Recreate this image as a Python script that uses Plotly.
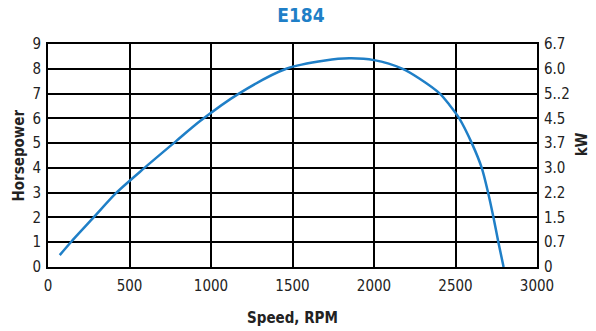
import plotly.graph_objects as go

# engine curve
speed_rpm = [72, 140, 280, 420, 592, 786, 935, 1171, 1462, 1700, 1848, 2000, 2176, 2278, 2404, 2462, 2523, 2600, 2661, 2700, 2733, 2763, 2795]
horsepower = [0.48, 1.0, 2.0, 3.0, 4.0, 5.08, 5.9, 7.0, 8.0, 8.33, 8.42, 8.35, 8.0, 7.61, 7.0, 6.55, 6.0, 5.0, 4.0, 3.0, 2.0, 1.0, 0.0]

hp_ticks = [0, 1, 2, 3, 4, 5, 6, 7, 8, 9]
kw_labels = ["0", "0.7", "1.5", "2.2", "3.0", "3.7", "4.5", "5..2", "6.0", "6.7"]
x_ticks = [0, 500, 1000, 1500, 2000, 2500, 3000]

FONT = "Liberation Sans Narrow, DejaVu Sans Condensed, Liberation Sans, Arial"
BLUE = "#1f7fc7"

fig = go.Figure()
fig.add_trace(go.Scatter(
    x=speed_rpm, y=horsepower, mode="lines",
    line=dict(color=BLUE, width=2.5, shape="spline", smoothing=0.8),
    showlegend=False,
))
# invisible trace so the kW axis shows up
fig.add_trace(go.Scatter(x=[None], y=[None], yaxis="y2", showlegend=False))

fig.update_layout(
    width=596, height=331,
    margin=dict(l=48, r=59, t=44, b=64),
    paper_bgcolor="white", plot_bgcolor="white",
    font=dict(family=FONT, size=15, color="#222"),
    title=dict(text="<b>E184</b>", x=0.505, xanchor="center", y=0.955, yanchor="middle",
               font=dict(family=FONT, size=19, color=BLUE)),
    xaxis=dict(
        range=[0, 3000], tickvals=x_ticks, showgrid=True, gridcolor="black", gridwidth=2,
        showline=True, linecolor="black", linewidth=2, mirror=True, zeroline=False,
        ticks="", ticklabelstandoff=4, automargin=False,
    ),
    yaxis=dict(
        range=[0, 9], tickvals=hp_ticks, showgrid=True, gridcolor="black", gridwidth=2,
        showline=True, linecolor="black", linewidth=2, mirror=True, zeroline=False,
        ticks="", ticklabelstandoff=2, automargin=False,
    ),
    yaxis2=dict(
        range=[0, 9], tickvals=hp_ticks, ticktext=kw_labels, overlaying="y", side="right",
        showgrid=False, zeroline=False, ticks="", ticklabelstandoff=6, automargin=False,
    ),
    annotations=[
        dict(text="<b>Speed, RPM</b>", xref="paper", yref="paper", x=0.5, y=-0.23,
             xanchor="center", yanchor="middle", showarrow=False, font=dict(size=15)),
        dict(text="<b>Horsepower</b>", xref="paper", yref="paper", x=0, xshift=-30, y=0.5,
             xanchor="center", yanchor="middle", textangle=-90, showarrow=False, font=dict(size=15)),
        dict(text="<b>kW</b>", xref="paper", yref="paper", x=1, xshift=45, y=0.55,
             xanchor="center", yanchor="middle", textangle=-90, showarrow=False, font=dict(size=15)),
    ],
)

# drop the browser's default 8px body margin so the figure sits at the page corner
fig.write_html("out.html", config={"displayModeBar": False},
               post_script="document.body.style.margin='0px';")
